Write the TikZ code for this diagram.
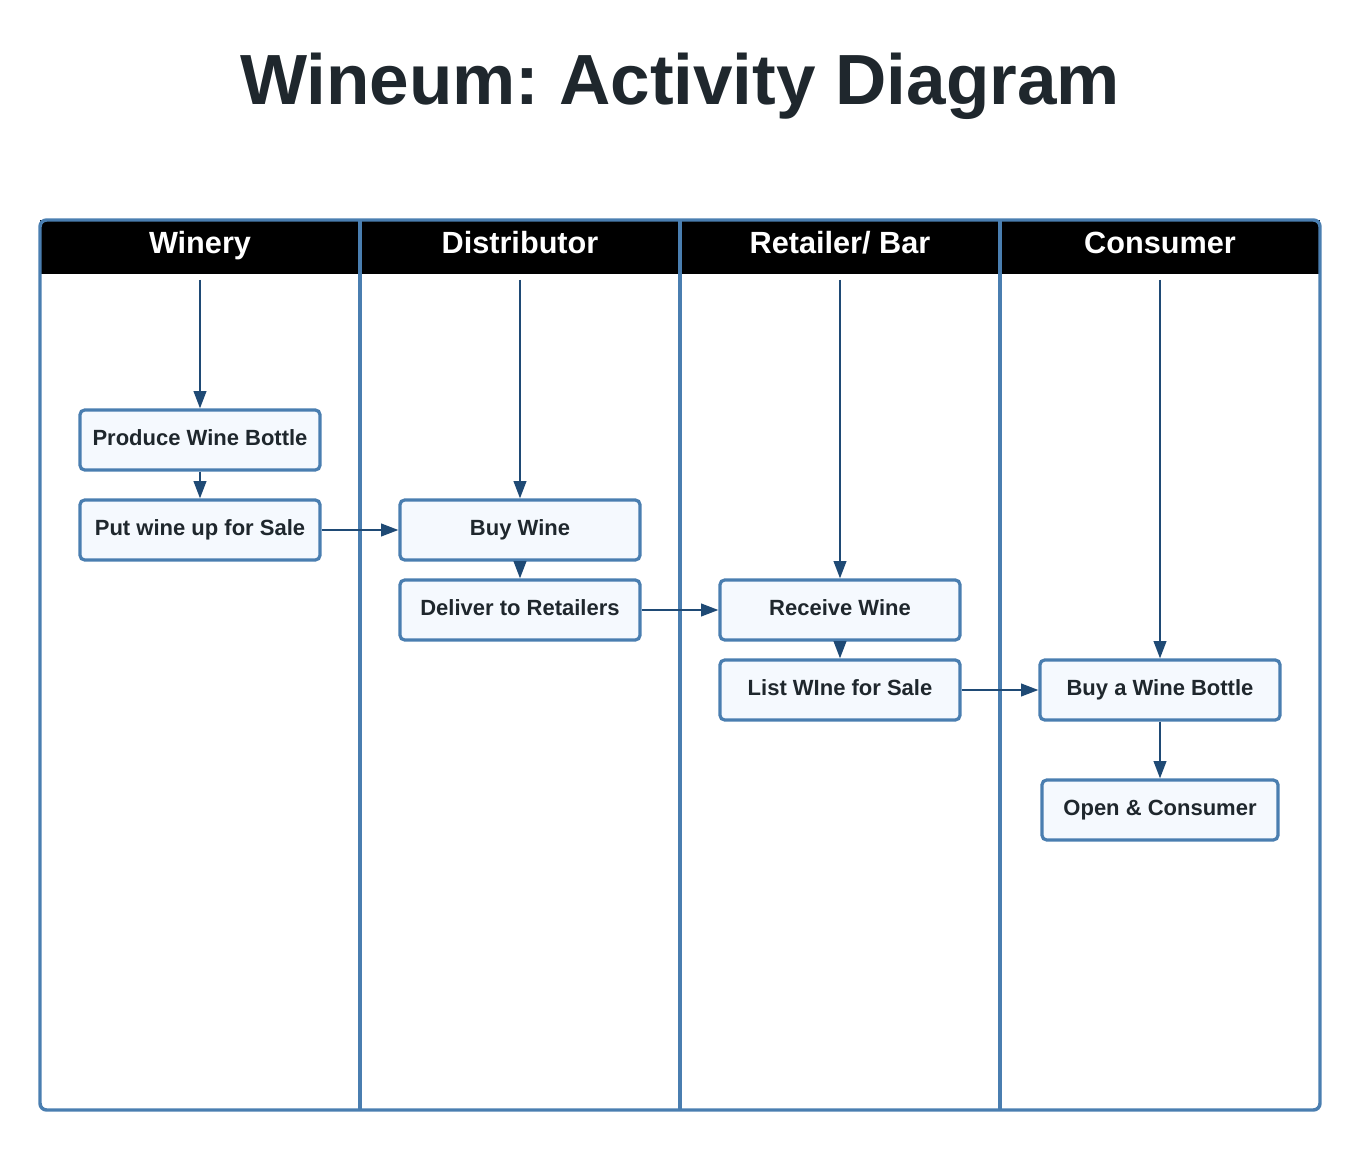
\documentclass[tikz,border=0pt]{standalone}
\usepackage{fontspec}
\setmainfont{Liberation Sans}
\frenchspacing
\usetikzlibrary{arrows.meta, positioning}
\definecolor{laneblue}{HTML}{4A7EB0}
\definecolor{arrowblue}{HTML}{1F4A75}
\definecolor{boxfill}{HTML}{F5F9FE}
\definecolor{titleink}{HTML}{1F272D}
\tikzstyle{activity} = [rectangle, rounded corners=3.5pt, draw=laneblue, line width=2.4pt,
fill=boxfill, minimum width=180pt, minimum height=45pt, text centered, text height=12pt, text depth=4pt,
font=\fontsize{16.5}{19}\selectfont\bfseries, text=titleink]
\tikzstyle{laneHead} = [anchor=base, font=\fontsize{23}{26}\selectfont\bfseries, text=white]
\tikzstyle{flow} = [line width=1.5pt, draw=arrowblue, -{Triangle[length=13pt, width=9.5pt]}]

\begin{document}
\begin{tikzpicture}[x=0.75pt, y=-0.75pt, node distance=67.5pt]
    \useasboundingbox (0,0) rectangle (1360,1151);

    \node (title) at (680,105) [anchor=base, font=\fontsize{53.3}{62}\selectfont\bfseries, text=titleink] {Wineum: Activity Diagram};

    % swimlanes
    \fill[black] (40,220) rectangle (1320,272);
    \draw[black, line width=2.4pt] (40,272) -- (1320,272);
    \foreach \x in {360, 680, 1000}
        \draw[laneblue, line width=2.6pt] (\x,220) -- (\x,1110);
    \draw[laneblue, line width=2.6pt, rounded corners=5pt] (40,220) rectangle (1320,1110);
    \node (hWinery) at (200,254) [laneHead] {Winery};
    \node (hDist) at (520,254) [laneHead] {Distributor};
    \node (hRetail) at (840,254) [laneHead] {Retailer/ Bar};
    \node (hCons) at (1160,254) [laneHead] {Consumer};

    % activities
    \node (produce) at (200,440) [activity] {Produce Wine Bottle};
    \node (putSale) [activity, below of=produce] {Put wine up for Sale};
    \node (buyWine) at (520,530) [activity] {Buy Wine};
    \node (deliver) [activity, below of=buyWine, yshift=7.5pt] {Deliver to Retailers};
    \node (receive) at (840,610) [activity] {Receive Wine};
    \node (listSale) [activity, below of=receive, yshift=7.5pt] {List WIne for Sale};
    \node (buyBottle) at (1160,690) [activity] {Buy a Wine Bottle};
    \node (openCons) [activity, minimum width=177pt, below of=buyBottle, yshift=-22.5pt] {Open \& Consumer};

    \coordinate (sWinery) at (200,280);
    \coordinate (sDist) at (520,280);
    \coordinate (sRetail) at (840,280);
    \coordinate (sCons) at (1160,280);

    \draw[flow] (sWinery) -- (produce);
    \draw[flow] (produce) -- (putSale);
    \draw[flow] (putSale) -- (buyWine);
    \draw[flow] (sDist) -- (buyWine);
    \draw[flow] (buyWine) -- (deliver);
    \draw[flow] (deliver) -- (receive);
    \draw[flow] (sRetail) -- (receive);
    \draw[flow] (receive) -- (listSale);
    \draw[flow] (listSale) -- (buyBottle);
    \draw[flow] (sCons) -- (buyBottle);
    \draw[flow] (buyBottle) -- (openCons);

\end{tikzpicture}
\end{document}
